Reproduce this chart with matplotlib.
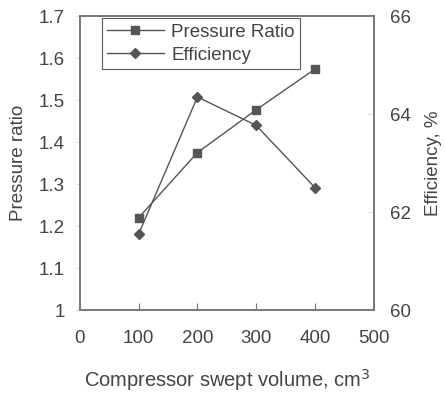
import matplotlib.pyplot as plt

plt.rcParams['font.family'] = ['Liberation Sans', 'DejaVu Sans']

volume = [100, 200, 300, 400]
pressure_ratio = [1.22, 1.375, 1.477, 1.574]
efficiency = [61.55, 64.35, 63.77, 62.5]

gray = '#555555'
txt = '#444444'

fig = plt.figure(figsize=(4.46, 3.94), dpi=100)
ax = fig.add_axes([0.179, 0.213, 0.659, 0.746])
ax2 = ax.twinx()

l1, = ax.plot(volume, pressure_ratio, color=gray, lw=1, marker='s', ms=6,
              label='Pressure Ratio')
l2, = ax2.plot(volume, efficiency, color=gray, lw=1, marker='D', ms=5.5,
               label='Efficiency')

ax.set_xlim(0, 500)
ax.set_ylim(1.0, 1.7)
ax2.set_ylim(60, 66)
ax.set_xticks([0, 100, 200, 300, 400, 500])
ax.set_yticks([1.0, 1.1, 1.2, 1.3, 1.4, 1.5, 1.6, 1.7])
ax.set_yticklabels(['1', '1.1', '1.2', '1.3', '1.4', '1.5', '1.6', '1.7'])
ax2.set_yticks([60, 62, 64, 66])

for a in (ax, ax2):
    for s in a.spines.values():
        s.set_color('#777777')
        s.set_linewidth(1.2)
fs = 13.5
ax.tick_params(axis='x', direction='in', length=5, color='#777777',
               labelsize=fs, labelcolor=txt, pad=14)
ax.tick_params(axis='y', direction='out', length=3, color='#dddddd',
               labelsize=fs, labelcolor=txt, pad=8)
ax2.tick_params(axis='y', direction='in', length=4, color='#dddddd',
                labelsize=fs, labelcolor=txt, pad=12)

ax.set_xlabel('Compressor swept volume, cm$^3$', fontsize=14.5, color=txt,
              labelpad=15)
ax.set_ylabel('Pressure ratio', fontsize=fs, color=txt, labelpad=8)
ax2.set_ylabel('Efficiency, %', fontsize=fs, color=txt, labelpad=10)

leg = ax.legend([l1, l2], ['Pressure Ratio', 'Efficiency'], loc='upper left',
                bbox_to_anchor=(0.068, 1.0), fontsize=fs, frameon=True,
                fancybox=False, borderpad=0.3, handlelength=3.0,
                handletextpad=0.4, labelspacing=0.3, borderaxespad=0.1)
leg.get_frame().set_edgecolor('#333333')
leg.get_frame().set_linewidth(0.8)
for t in leg.get_texts():
    t.set_color(txt)

fig.savefig('out.png', dpi=100)
